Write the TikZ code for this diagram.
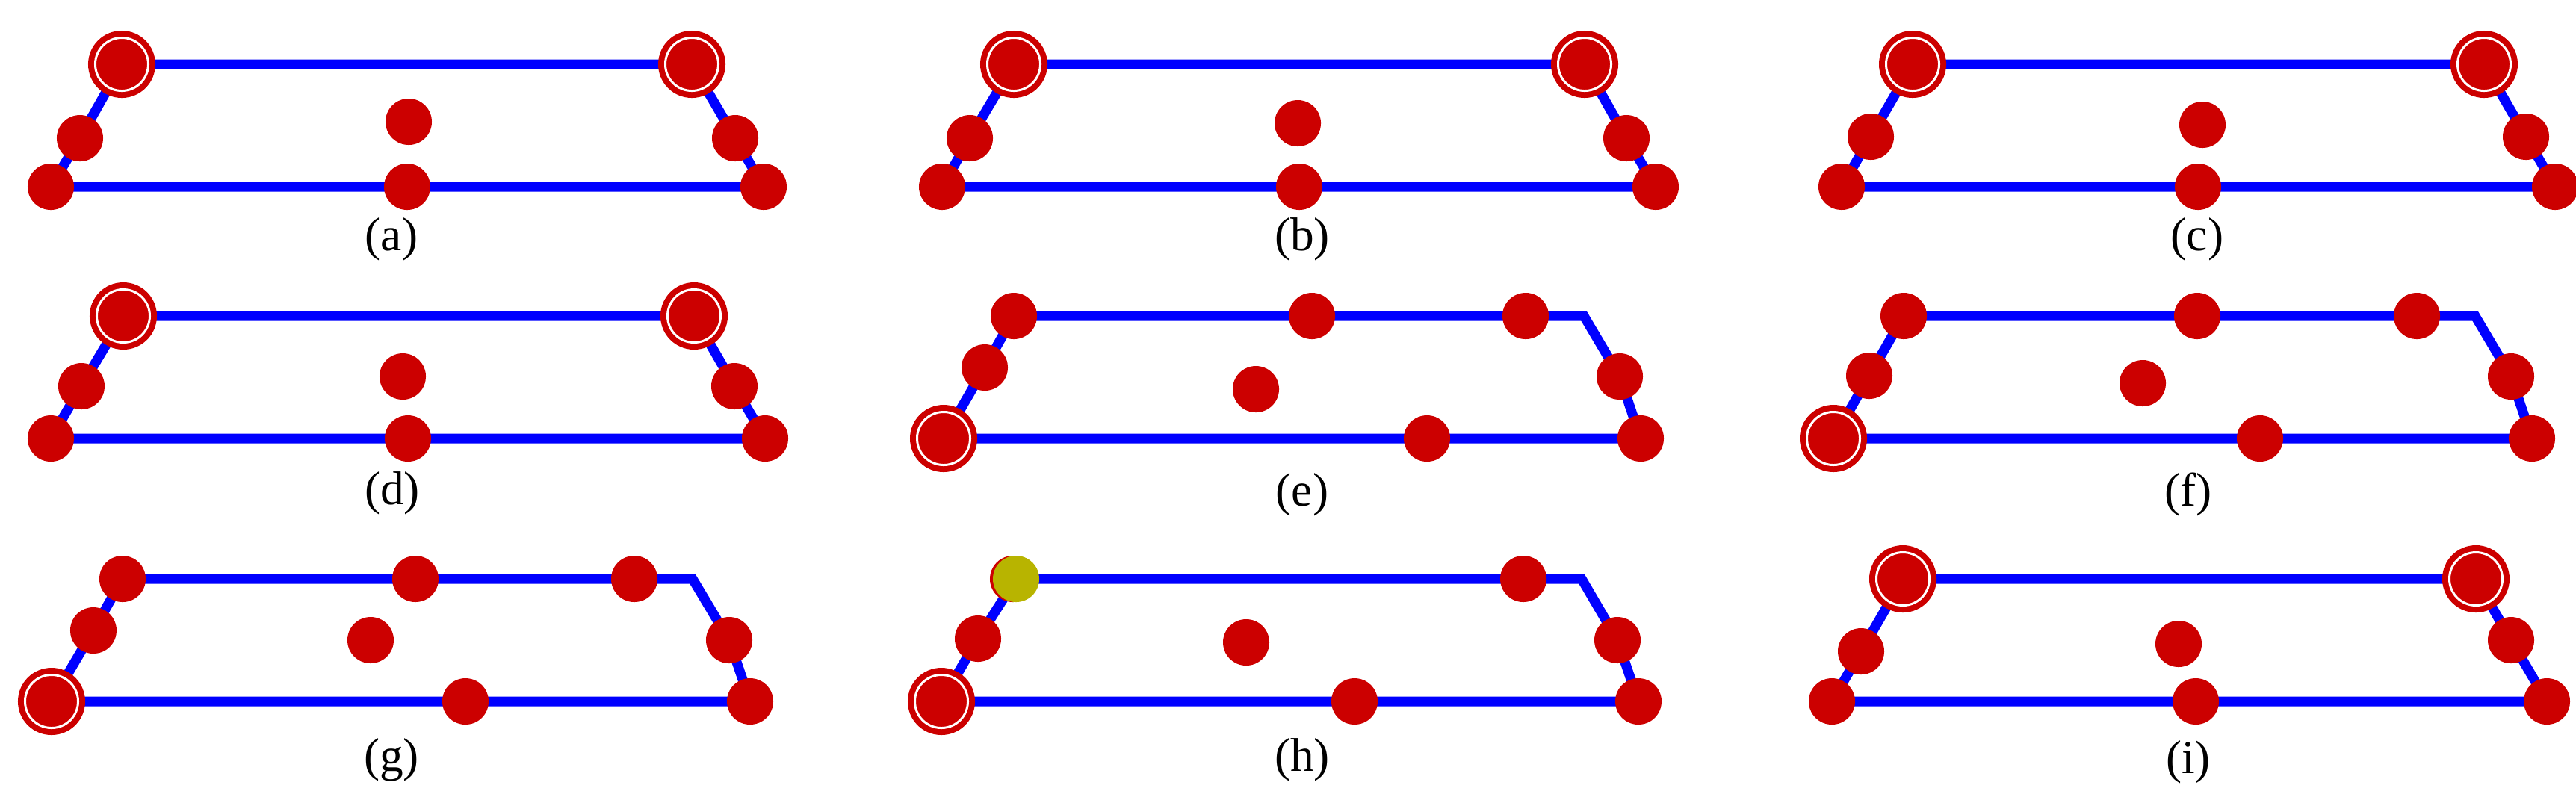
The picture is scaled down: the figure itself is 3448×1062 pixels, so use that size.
\documentclass[tikz,border=0pt]{standalone}
\usepackage{fontspec}
\setmainfont{Liberation Serif}
\definecolor{dred}{HTML}{CC0000}
\definecolor{dblue}{HTML}{0000FF}
\definecolor{olive}{HTML}{B8B400}
\tikzset{
  edge/.style={draw=dblue,line width=0.13cm,line join=miter},
  dot/.style={circle,fill=dred,inner sep=0pt,minimum size=0.62cm},
  ring/.style={circle,fill=dred,inner sep=0pt,minimum size=0.9cm,
    path picture={\draw[white,line width=0.03cm] (path picture bounding box.center) circle (0.355cm);}},
  odot/.style={circle,fill=olive,inner sep=0pt,minimum size=0.62cm},
  lab/.style={font=\fontsize{18}{20}\selectfont,inner sep=0pt}
}
\begin{document}
\begin{tikzpicture}[x=0.01cm,y=-0.01cm]
\useasboundingbox (0,0) rectangle (3448,1062);
% ---- type 1 panels (a,b,c,d,i)
\foreach \p/\tlx/\tly/\trx/\lmx/\lmy/\blx/\bly/\cx/\cy/\bcx/\rmx/\rmy/\brx/\lx/\ly in {
 a/163/86/926/107/185/68/250/547/163/545/984/185/1022/524/320,
 b/1357/86/2121/1298/185/1261/250/1737/165/1739/2177/185/2216/1743/320,
 c/2560/86/3325/2504/183/2465/250/2948/167/2942/3381/183/3420/2941/320,
 d/165/423/929/109/517/68/587/539/504/546/983/517/1024/525/660,
 i/2547/775/3314/2491/872/2452/939/2916/862/2939/3361/857/3409/2929/1020}{
  \coordinate (\p-tl) at (\tlx,\tly);
  \coordinate (\p-tr) at (\trx,\tly);
  \coordinate (\p-lm) at (\lmx,\lmy);
  \coordinate (\p-bl) at (\blx,\bly);
  \coordinate (\p-rm) at (\rmx,\rmy);
  \coordinate (\p-br) at (\brx,\bly);
  \draw[edge] (\p-tl) -- (\p-tr) -- (\p-rm) -- (\p-br) -- (\p-bl) -- (\p-lm) -- cycle;
  \node[ring] (\p-TL) at (\p-tl) {};
  \node[ring] (\p-TR) at (\p-tr) {};
  \node[dot] (\p-LM) at (\p-lm) {};
  \node[dot] (\p-BL) at (\p-bl) {};
  \node[dot] (\p-RM) at (\p-rm) {};
  \node[dot] (\p-BR) at (\p-br) {};
  \node[dot] (\p-C) at (\cx,\cy) {};
  \node[dot] (\p-BC) at (\bcx,\bly) {};
  \node[lab] (\p-lab) at (\lx,\ly) {(\p)};
}
% ---- type 2 panels (e,f,g,h)
\foreach \p/\tlx/\tly/\tmx/\trx/\cox/\rmx/\rmy/\brx/\bly/\rgx/\bmx/\lmx/\lmy/\cx/\cy/\lx/\ly in {
 e/1357/423/1756/2042/2120/2168/504/2196/587/1263/1910/1318/492/1681/521/1743/662,
 f/2548/423/2941/3235/3313/3361/504/3389/587/2454/3025/2502/503/2868/513/2929/662,
 g/164/775/556/849/927/976/857/1004/939/69/623/125/844/496/857/524/1017,
 h/1360/775/-1/2039/2117/2165/857/2193/939/1260/1813/1309/855/1668/860/1743/1017}{
  \coordinate (\p-tl) at (\tlx,\tly);
  \coordinate (\p-co) at (\cox,\tly);
  \coordinate (\p-rm) at (\rmx,\rmy);
  \coordinate (\p-br) at (\brx,\bly);
  \coordinate (\p-rg) at (\rgx,\bly);
  \coordinate (\p-lm) at (\lmx,\lmy);
  \draw[edge] (\p-tl) -- (\p-co) -- (\p-rm) -- (\p-br) -- (\p-rg) -- (\p-lm) -- cycle;
  \ifnum\tmx>0 \node[dot] (\p-TL) at (\p-tl) {};
    \node[dot] (\p-TM) at (\tmx,\tly) {};
  \else
    \node[dot] (\p-TLr) at ([xshift=-0.04cm]\p-tl) {};
    \node[odot] (\p-TL) at (\p-tl) {};
  \fi
  \node[dot] (\p-TR) at (\trx,\tly) {};
  \node[dot] (\p-RM) at (\p-rm) {};
  \node[dot] (\p-BR) at (\p-br) {};
  \node[ring] (\p-RG) at (\p-rg) {};
  \node[dot] (\p-BM) at (\bmx,\bly) {};
  \node[dot] (\p-LM) at (\p-lm) {};
  \node[dot] (\p-C) at (\cx,\cy) {};
  \node[lab] (\p-lab) at (\lx,\ly) {(\p)};
}
\end{tikzpicture}
\end{document}
